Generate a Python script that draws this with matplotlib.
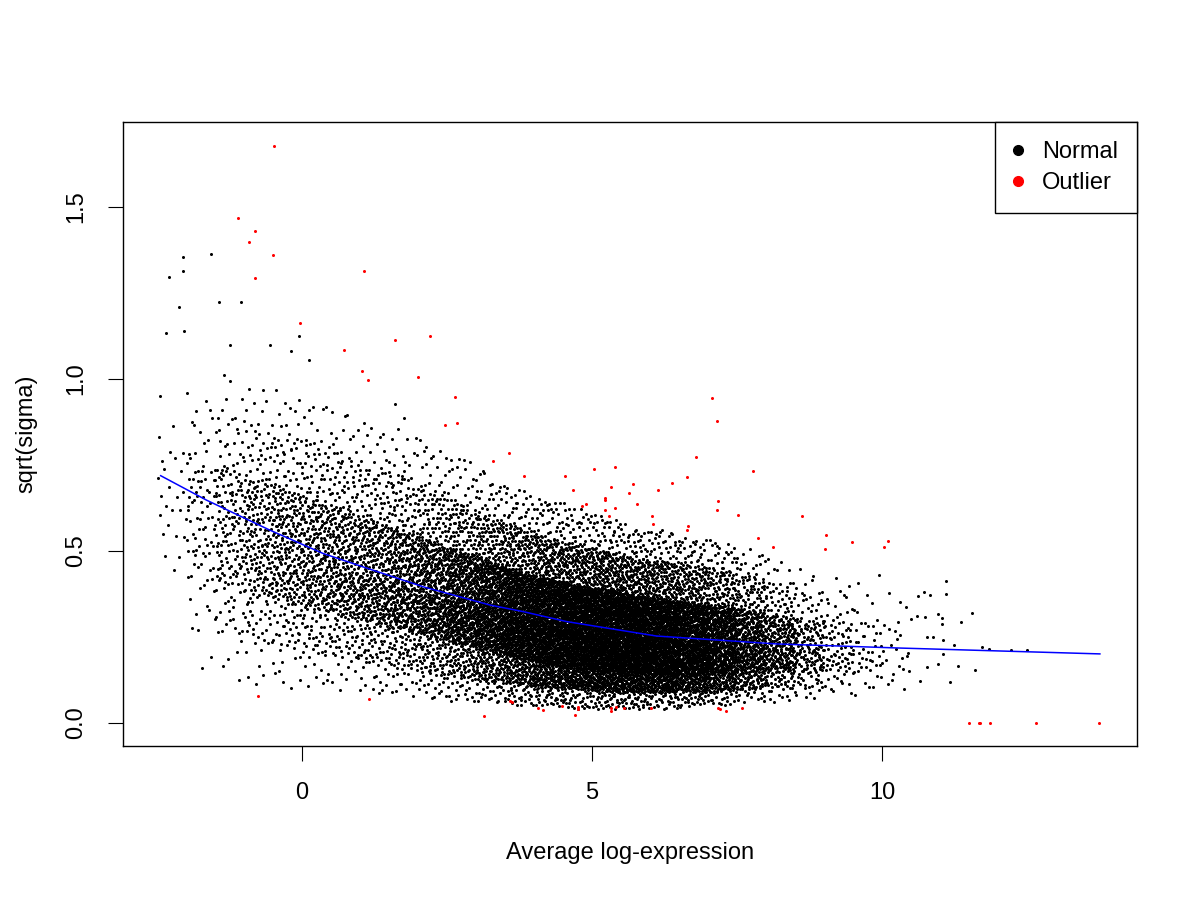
import numpy as np
import matplotlib
matplotlib.use("Agg")
import matplotlib.pyplot as plt
from matplotlib.lines import Line2D

plt.rcParams['font.family'] = ['Liberation Sans', 'DejaVu Sans']

# Dense cloud of "Normal" genes, summarised per 0.5-wide bin of average
# log-expression: count and y quantiles
bin_center = [-2.25, -1.75, -1.25, -0.75, -0.25, 0.25, 0.75, 1.25, 1.75, 2.25, 2.75, 3.25,
              3.75, 4.25, 4.75, 5.25, 5.75, 6.25, 6.75, 7.25, 7.75, 8.25, 8.75, 9.25,
              9.75, 10.25]
bin_count = [24, 90, 170, 240, 290, 320, 350, 390, 450, 540, 660, 820, 980,
             1100, 1150, 1180, 1150, 1050, 900, 700, 480, 300, 160, 85, 45, 25]
q_min = [0.40, 0.14, 0.13, 0.10, 0.10, 0.10, 0.09, 0.08, 0.08, 0.07, 0.06, 0.06, 0.05,
         0.05, 0.04, 0.04, 0.04, 0.04, 0.05, 0.05, 0.06, 0.06, 0.07, 0.08, 0.08, 0.09]
q_03 = [0.45, 0.28, 0.25, 0.23, 0.22, 0.20, 0.19, 0.17, 0.16, 0.14, 0.13, 0.12, 0.11,
        0.10, 0.10, 0.09, 0.09, 0.09, 0.09, 0.09, 0.10, 0.10, 0.10, 0.10, 0.10, 0.11]
q_15 = [0.55, 0.42, 0.40, 0.37, 0.35, 0.33, 0.31, 0.29, 0.27, 0.25, 0.23, 0.21, 0.19,
        0.17, 0.16, 0.15, 0.145, 0.14, 0.14, 0.14, 0.145, 0.15, 0.15, 0.15, 0.15, 0.15]
q_50 = [0.68, 0.60, 0.57, 0.54, 0.51, 0.48, 0.45, 0.42, 0.40, 0.37, 0.35, 0.33, 0.31,
        0.29, 0.28, 0.265, 0.255, 0.245, 0.24, 0.235, 0.23, 0.225, 0.22, 0.215, 0.21, 0.21]
q_85 = [0.80, 0.76, 0.74, 0.71, 0.68, 0.65, 0.62, 0.59, 0.56, 0.53, 0.50, 0.47, 0.44,
        0.42, 0.40, 0.39, 0.37, 0.36, 0.35, 0.34, 0.33, 0.31, 0.30, 0.30, 0.30, 0.30]
q_97 = [0.90, 0.92, 0.90, 0.87, 0.84, 0.82, 0.78, 0.75, 0.72, 0.68, 0.64, 0.60, 0.57,
        0.54, 0.52, 0.50, 0.48, 0.47, 0.46, 0.45, 0.43, 0.40, 0.39, 0.38, 0.38, 0.38]
q_max = [0.95, 1.03, 1.03, 0.98, 0.97, 0.95, 0.90, 0.88, 0.85, 0.82, 0.78, 0.72, 0.68,
         0.65, 0.63, 0.60, 0.57, 0.56, 0.54, 0.53, 0.51, 0.47, 0.45, 0.43, 0.44, 0.43]
probs = [0.0, 0.03, 0.15, 0.5, 0.85, 0.97, 1.0]

# individually readable "Normal" points (sparse edges)
sparse_x = [-2.45, -2.05, -1.58, -2.29, -2.05, -2.12, -1.44, -1.05, -2.34, -2.03, -1.25,
            -0.56, -0.06, -0.20, 0.11, 1.61, 1.76,
            11.11, 11.11, 11.56, 11.37, 11.73, 11.85, 12.22, 12.51, 11.61, 11.32, 11.18,
            11.06, 11.06, 10.97, 11.25, 11.04, 11.04, 10.96, 10.63, 10.73, 10.83, 10.60,
            10.74, 10.88, 10.78, 10.77, 10.66]
sparse_y = [0.950, 1.354, 1.364, 1.298, 1.313, 1.208, 1.225, 1.225, 1.134, 1.141, 1.098,
            1.098, 1.124, 1.082, 1.054, 0.926, 0.888,
            0.412, 0.376, 0.321, 0.295, 0.222, 0.216, 0.213, 0.213, 0.153, 0.167, 0.118,
            0.241, 0.202, 0.172, 0.226, 0.304, 0.288, 0.316, 0.369, 0.380, 0.371, 0.312,
            0.309, 0.250, 0.249, 0.162, 0.121]

# "Outlier" genes
out_x = [-0.48, -1.10, -0.82, -0.91, -0.50, -0.82, 1.07, -0.03, 0.72, 1.60, 2.21, 1.03,
         1.14, 2.00, 2.63, 2.47, 2.67, 3.57, 3.30, -0.77, 1.16, 3.13, 3.58, 3.62,
         7.07, 7.16, 3.82, 4.54, 5.03, 5.39, 4.67, 5.33, 5.71, 5.22, 5.22, 5.22, 5.40,
         5.29, 4.83, 4.90, 5.64, 5.77, 6.14, 6.38, 6.63, 6.79, 6.03, 6.06, 6.66, 6.64,
         7.17, 7.15, 7.51, 7.78, 7.86, 8.13, 8.63, 9.04, 9.01, 9.48, 10.11, 10.04,
         4.06, 4.16, 4.49, 4.75, 4.75, 4.71, 5.32, 5.33, 5.41, 5.55, 6.02, 7.17, 7.21,
         7.31, 7.58, 11.50, 11.67, 11.69, 11.86, 12.66, 13.75]
out_y = [1.678, 1.467, 1.429, 1.397, 1.360, 1.293, 1.313, 1.162, 1.085, 1.112, 1.124, 1.022,
         0.996, 1.007, 0.949, 0.865, 0.872, 0.786, 0.761, 0.078, 0.069, 0.021, 0.064, 0.061,
         0.945, 0.878, 0.719, 0.719, 0.738, 0.743, 0.678, 0.685, 0.696, 0.655, 0.648, 0.620,
         0.625, 0.601, 0.632, 0.636, 0.669, 0.637, 0.676, 0.699, 0.716, 0.772, 0.603, 0.579,
         0.574, 0.561, 0.644, 0.618, 0.606, 0.734, 0.537, 0.513, 0.602, 0.547, 0.505, 0.525,
         0.528, 0.512, 0.045, 0.037, 0.050, 0.048, 0.041, 0.022, 0.043, 0.034, 0.047, 0.045,
         0.045, 0.045, 0.040, 0.036, 0.045, 0.0, 0.0, 0.0, 0.0, 0.0, 0.0]

# fitted trend
trend_x = [-2.44, -1.65, -0.56, 0.36, 1.05, 2.09, 3.24, 3.81, 4.56, 6.11, 8.18, 10.31, 13.76]
trend_y = [0.719, 0.648, 0.561, 0.493, 0.454, 0.396, 0.343, 0.324, 0.295, 0.253, 0.230,
           0.218, 0.201]


def halton(i, base):
    f, r = 1.0, 0.0
    while i > 0:
        f /= base
        r += f * (i % base)
        i //= base
    return r


# lay each bin's count out over its quantiles (deterministic low-discrepancy layout),
# quantiles blended between neighbouring bin centres
qtab = [q_min, q_03, q_15, q_50, q_85, q_97, q_max]
cloud_x, cloud_y = [], []
k = 1
for j, c in enumerate(bin_center):
    for _ in range(bin_count[j]):
        xv = c - 0.25 + 0.5 * halton(k, 2)
        qs = [np.interp(xv, bin_center, q) for q in qtab]
        cloud_x.append(xv)
        cloud_y.append(np.interp(halton(k, 3), probs, qs))
        k += 1

fig = plt.figure(figsize=(12, 9), dpi=100)
ax = fig.add_axes([0.1025, 0.171, 0.845, 0.6934])

ax.plot(cloud_x, cloud_y, 'o', color='black', ms=2.2, mew=0, antialiased=False)
ax.plot(sparse_x, sparse_y, 'o', color='black', ms=2.2, mew=0, antialiased=False)
ax.plot(out_x, out_y, 'o', color='#FF0000', ms=2.2, mew=0, antialiased=False)
ax.plot(trend_x, trend_y, color='#0000FF', lw=1.1)

ax.set_xlim(-3.09, 14.40)
ax.set_ylim(-0.067, 1.747)
ax.set_xticks([0, 5, 10])
ax.set_yticks([0.0, 0.5, 1.0, 1.5])
ax.set_yticklabels(['0.0', '0.5', '1.0', '1.5'], rotation=90, va='center')
ax.tick_params(labelsize=17, length=11, width=0.8, pad=15)
for s in ax.spines.values():
    s.set_linewidth(1.0)

ax.set_xlabel('Average log-expression', fontsize=17, labelpad=27)
ax.set_ylabel('sqrt(sigma)', fontsize=17, labelpad=20)

handles = [Line2D([], [], ls='', marker='o', color='black', ms=7),
           Line2D([], [], ls='', marker='o', color='#FF0000', ms=7)]
leg = ax.legend(handles, ['Normal', 'Outlier'], loc='upper right', fontsize=17,
                borderaxespad=0, fancybox=False, framealpha=1, edgecolor='black',
                handletextpad=0.85, handlelength=0.35, borderpad=0.8, labelspacing=0.38)
leg.get_frame().set_linewidth(1.0)

fig.savefig('out.png', dpi=100)
